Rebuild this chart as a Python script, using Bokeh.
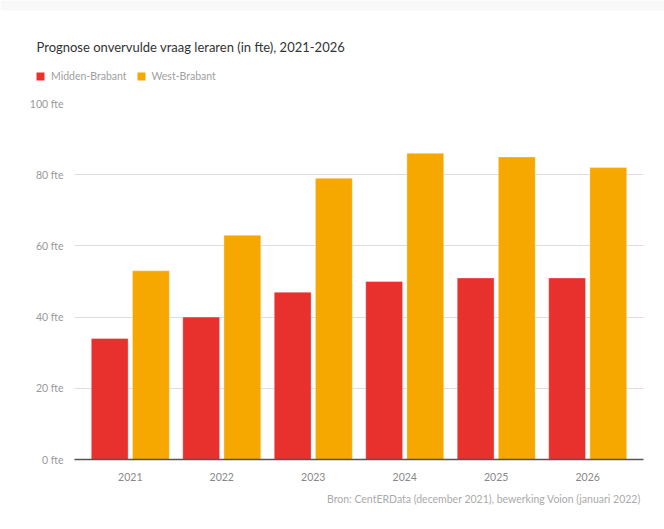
from bokeh.plotting import figure
from bokeh.layouts import column, row
from bokeh.models import (ColumnDataSource, FactorRange, Range1d, FixedTicker, Title,
                          Legend, LegendItem, Label, BoxAnnotation)
from bokeh.transform import dodge
from bokeh.embed import file_html
from bokeh.resources import INLINE

years = ["2021", "2022", "2023", "2024", "2025", "2026"]
midden_brabant = [34, 40, 47, 50, 51, 51]
west_brabant = [53, 63, 79, 86, 85, 82]
series_names = ["Midden-Brabant", "West-Brabant"]
y_ticks = [0, 20, 40, 60, 80, 100]
y_tick_labels = ["0 fte", "20 fte", "40 fte", "60 fte", "80 fte", "100 fte"]
title_text = "Prognose onvervulde vraag leraren (in fte), 2021-2026"
source_text = "Bron:  CentERData (december 2021), bewerking Voion (januari 2022)"

RED = "#e8312c"
ORANGE = "#f6a700"
FONT = "Lato"
W = 664
HEAD_H = 90
MAIN_H = 439

src = ColumnDataSource(dict(year=years, midden=midden_brabant, west=west_brabant))

# ---------- header: title + legend ----------
head = figure(width=W, height=HEAD_H, output_backend="svg", toolbar_location=None,
              x_range=FactorRange(factors=years), y_range=Range1d(-2, -1),
              x_axis_location=None, y_axis_location=None,
              min_border=0, min_border_left=0, min_border_right=0,
              min_border_top=0, min_border_bottom=0)
head.outline_line_color = None
head.grid.visible = False
head.border_fill_color = "white"

# legend swatches only: zero-height bars shifted far outside this strip
off = dodge("year", 50, range=head.x_range)
h1 = head.vbar(x=off, top="midden", bottom="midden", width=0.4, source=src,
               fill_color=RED, line_color=None)
h2 = head.vbar(x=off, top="west", bottom="west", width=0.4, source=src,
               fill_color=ORANGE, line_color=None)

# faint page band above the card
head.add_layout(BoxAnnotation(left=0, right=W, top=HEAD_H, bottom=HEAD_H - 10,
                              left_units="screen", right_units="screen",
                              top_units="screen", bottom_units="screen",
                              fill_color="#f8f8f8", fill_alpha=1, line_color=None,
                              level="overlay"))

head.add_layout(Label(x=36, y=HEAD_H - 46, x_units="screen", y_units="screen", text=title_text,
                      text_font=FONT, text_font_size="13px", text_color="#333333",
                      text_baseline="middle", text_align="left"))

legend = Legend(items=[LegendItem(label=series_names[0], renderers=[h1]),
                       LegendItem(label=series_names[1], renderers=[h2])],
                location=(35, HEAD_H - 82), orientation="horizontal",
                padding=0, spacing=9, margin=0, glyph_width=10, glyph_height=10,
                label_standoff=6, label_text_font=FONT, label_text_font_size="10.5px",
                label_text_color="#a0a0a0", border_line_color=None,
                background_fill_alpha=0, label_height=10)
head.add_layout(legend, "center")

# ---------- main chart ----------
p = figure(width=W, height=MAIN_H, output_backend="svg", toolbar_location=None,
           x_range=FactorRange(factors=years, range_padding=0.11, range_padding_units="absolute"),
           y_range=Range1d(0, 100),
           min_border_left=74, min_border_right=21, min_border_top=13, min_border_bottom=70)
p.outline_line_color = None
p.background_fill_color = "white"
p.border_fill_color = "white"

p.vbar(x=dodge("year", -0.225, range=p.x_range), top="midden", width=0.403, source=src,
       fill_color=RED, line_color="white", line_alpha=0.35, line_width=1)
p.vbar(x=dodge("year", 0.225, range=p.x_range), top="west", width=0.403, source=src,
       fill_color=ORANGE, line_color="white", line_alpha=0.35, line_width=1)

p.yaxis.ticker = FixedTicker(ticks=y_ticks)
p.yaxis.major_label_overrides = {t: l for t, l in zip(y_ticks, y_tick_labels)}
p.yaxis.axis_line_color = None
p.yaxis.major_tick_line_color = None
p.yaxis.minor_tick_line_color = None
p.yaxis.major_label_text_font = FONT
p.yaxis.major_label_text_font_size = "10.5px"
p.yaxis.major_label_text_color = "#999999"
p.yaxis.major_label_standoff = 5

p.xaxis.axis_line_color = "#555555"
p.xaxis.axis_line_width = 1.5
p.xaxis.major_tick_line_color = None
p.xaxis.minor_tick_line_color = None
p.xaxis.major_label_text_font = FONT
p.xaxis.major_label_text_font_size = "10.5px"
p.xaxis.major_label_text_color = "#888888"
p.xaxis.major_label_standoff = 7

p.xgrid.grid_line_color = None
p.ygrid.grid_line_color = "#dddddd"
p.ygrid.grid_line_width = 1

p.add_layout(Title(text=source_text, align="right", text_font=FONT, text_font_size="10.5px",
                   text_font_style="normal", text_color="#aaaaaa", standoff=14), "below")

layout = column(row(head), p, spacing=0)
open("out.html", "w").write(file_html(layout, INLINE))
